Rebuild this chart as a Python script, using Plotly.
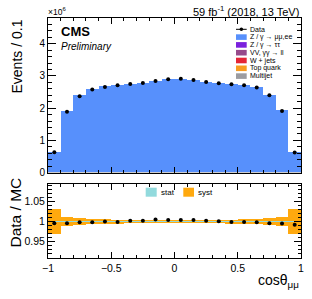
import plotly.graph_objects as go
import numpy as np

# ---------------- data (events in units of 1e6) ----------------
bin_centers = [-0.95, -0.85, -0.75, -0.65, -0.55, -0.45, -0.35, -0.25, -0.15, -0.05,
               0.05, 0.15, 0.25, 0.35, 0.45, 0.55, 0.65, 0.75, 0.85, 0.95]
bin_width = 0.1

mc_zll = [0.63, 1.90, 2.38, 2.58, 2.66, 2.71, 2.74, 2.77, 2.83, 2.89,
          2.90, 2.86, 2.80, 2.77, 2.74, 2.71, 2.64, 2.40, 1.92, 0.63]
mc_ztt = [0.004, 0.008, 0.009, 0.009, 0.009, 0.009, 0.009, 0.009, 0.009, 0.009,
          0.009, 0.009, 0.009, 0.009, 0.009, 0.009, 0.009, 0.009, 0.008, 0.004]
mc_vv = [0.001, 0.002, 0.002, 0.002, 0.002, 0.002, 0.002, 0.002, 0.002, 0.002,
         0.002, 0.002, 0.002, 0.002, 0.002, 0.002, 0.002, 0.002, 0.002, 0.001]
mc_wjets = [0.001, 0.001, 0.001, 0.001, 0.001, 0.001, 0.001, 0.001, 0.001, 0.001,
            0.001, 0.001, 0.001, 0.001, 0.001, 0.001, 0.001, 0.001, 0.001, 0.001]
mc_top = [0.002, 0.003, 0.003, 0.003, 0.003, 0.003, 0.003, 0.003, 0.003, 0.003,
          0.003, 0.003, 0.003, 0.003, 0.003, 0.003, 0.003, 0.003, 0.003, 0.002]
mc_multijet = [0.001, 0.001, 0.001, 0.001, 0.001, 0.001, 0.001, 0.001, 0.001, 0.001,
               0.001, 0.001, 0.001, 0.001, 0.001, 0.001, 0.001, 0.001, 0.001, 0.001]

data_events = [0.63, 1.89, 2.37, 2.58, 2.66, 2.71, 2.75, 2.78, 2.84, 2.90,
               2.91, 2.87, 2.81, 2.77, 2.74, 2.71, 2.64, 2.40, 1.91, 0.62]

ratio_data = [0.996, 0.996, 0.998, 0.998, 1.000, 0.999, 1.002, 1.002, 1.005, 1.004,
              1.004, 1.004, 1.002, 1.001, 0.999, 0.999, 0.998, 0.996, 0.995, 0.992]
ratio_syst = [0.032, 0.0105, 0.008, 0.007, 0.0055, 0.005, 0.0045, 0.004, 0.004, 0.004,
              0.004, 0.004, 0.004, 0.0045, 0.005, 0.0055, 0.007, 0.008, 0.0105, 0.032]
ratio_stat = [0.0015, 0.0012, 0.0012, 0.0012, 0.0012, 0.0012, 0.0012, 0.0012, 0.0012, 0.0012,
              0.0012, 0.0012, 0.0012, 0.0012, 0.0012, 0.0012, 0.0012, 0.0012, 0.0012, 0.0015]

x_ticks = [-1, -0.5, 0, 0.5, 1]
x_ticktext = ["\u22121", "\u22120.5", "0", "0.5", "1"]
y_ticks = [0, 1, 2, 3, 4]
r_ticks = [0.95, 1.0, 1.05]
r_ticktext = ["0.95", "1", "1.05"]

stack = [  # bottom -> top
    ("Multijet", mc_multijet, "#9c9ca1"),
    ("Top quark", mc_top, "#f89c20"),
    ("W + jets", mc_wjets, "#e42536"),
    ("VV, \u03b3\u03b3 \u2192 ll", mc_vv, "#964a8b"),
    ("Z / \u03b3 \u2192 \u03c4\u03c4", mc_ztt, "#7a21dd"),
    ("Z / \u03b3 \u2192 \u03bc\u03bc,ee", mc_zll, "#5790fc"),
]

FONT = "Liberation Sans, Arial, Helvetica, sans-serif"
W, H = 312, 299
L, R, T, B = 48, 301, 18, 258


def px_x(p):
    return (p - L) / (R - L)


def px_y(p):
    return (B - p) / (B - T)


fig = go.Figure()

base = np.zeros(len(bin_centers))
for name, vals, col in stack:
    v = np.array(vals)
    fig.add_trace(go.Bar(x=bin_centers, y=v, base=base.copy(), width=bin_width,
                         marker=dict(color=col, line=dict(width=0)), name=name,
                         xaxis="x", yaxis="y", showlegend=False))
    base = base + v

fig.add_trace(go.Scatter(x=bin_centers, y=data_events, mode="markers",
                         marker=dict(color="black", size=4), xaxis="x", yaxis="y",
                         showlegend=False, name="Data"))

# ratio panel
syst = np.array(ratio_syst)
stat = np.array(ratio_stat)
fig.add_trace(go.Bar(x=bin_centers, y=2 * syst, base=1 - syst, width=bin_width,
                     marker=dict(color="#ffa90e", line=dict(width=0)),
                     xaxis="x2", yaxis="y2", showlegend=False, name="syst"))
fig.add_trace(go.Bar(x=bin_centers, y=2 * stat, base=1 - stat, width=bin_width,
                     marker=dict(color="#92dadd", line=dict(width=0)),
                     xaxis="x2", yaxis="y2", showlegend=False, name="stat"))
fig.add_trace(go.Scatter(x=bin_centers, y=ratio_data, mode="markers",
                         marker=dict(color="black", size=4), xaxis="x2", yaxis="y2",
                         showlegend=False, name="Data/MC"))

axis_common = dict(showline=True, linecolor="black", linewidth=1, mirror="ticks",
                   ticks="inside", tickcolor="black", tickwidth=1, showgrid=False,
                   zeroline=False, automargin=False)

top_dom = [px_y(172.5), 1.0]
bot_dom = [0.0, px_y(184.3)]

fig.update_layout(
    width=W, height=H,
    margin=dict(l=L, r=W - R, t=T, b=H - B, pad=0, autoexpand=False),
    paper_bgcolor="white", plot_bgcolor="white",
    barmode="overlay", bargap=0,
    font=dict(family=FONT, color="black"),
    xaxis=dict(domain=[0, 1], anchor="y", range=[-1, 1], tickvals=x_ticks,
               showticklabels=False, ticklen=6,
               minor=dict(ticks="inside", dtick=0.1, tick0=-1, ticklen=3, tickcolor="black"),
               **axis_common),
    yaxis=dict(domain=top_dom, anchor="x", range=[0, 4.8], tickvals=y_ticks,
               ticklen=8, tickfont=dict(size=10, family=FONT),
               minor=dict(ticks="inside", dtick=0.2, tick0=0, ticklen=4, tickcolor="black"),
               **axis_common),
    xaxis2=dict(domain=[0, 1], anchor="y2", range=[-1, 1], tickvals=x_ticks,
                ticktext=x_ticktext, ticklen=6, tickfont=dict(size=10.5, family=FONT),
                minor=dict(ticks="inside", dtick=0.1, tick0=-1, ticklen=3, tickcolor="black"),
                **axis_common),
    yaxis2=dict(domain=bot_dom, anchor="x2", range=[0.9085, 1.0935], tickvals=r_ticks,
                ticktext=r_ticktext, ticklen=7, tickfont=dict(size=10.5, family=FONT),
                minor=dict(ticks="inside", dtick=0.01, tick0=0.9, ticklen=3.5, tickcolor="black"),
                **axis_common),
)

ann = []
# axis titles
ann.append(dict(text="Events / 0.1", x=px_x(16.5), y=1.0, xref="paper", yref="paper",
                xanchor="center", yanchor="top", textangle=-90, showarrow=False,
                font=dict(size=14, family=FONT)))
ann.append(dict(text="Data / MC", x=px_x(15), y=px_y(212.5), xref="paper", yref="paper",
                xanchor="center", yanchor="middle", textangle=-90, showarrow=False,
                font=dict(size=15.5, family=FONT)))
ann.append(dict(text="cos\u03b8<sub>\u03bc\u03bc</sub>", x=px_x(300.5), y=px_y(281),
                xref="paper", yref="paper", xanchor="right", yanchor="middle",
                showarrow=False, font=dict(size=14, family=FONT)))
# header texts
ann.append(dict(text="59 fb<sup>-1</sup> (2018, 13 TeV)", x=px_x(300.5), y=px_y(10.5),
                xref="paper", yref="paper", xanchor="right", yanchor="middle",
                showarrow=False, font=dict(size=11, family=FONT)))
ann.append(dict(text="\u00d710<sup>6</sup>", x=px_x(46), y=px_y(11.5), xref="paper",
                yref="paper", xanchor="left", yanchor="middle", showarrow=False,
                font=dict(size=8.5, family=FONT)))
ann.append(dict(text="<b>CMS</b>", x=px_x(59), y=px_y(31.5), xref="paper", yref="paper",
                xanchor="left", yanchor="middle", showarrow=False,
                font=dict(size=13, family=FONT)))
ann.append(dict(text="<i>Preliminary</i>", x=px_x(59), y=px_y(46), xref="paper",
                yref="paper", xanchor="left", yanchor="middle", showarrow=False,
                font=dict(size=10, family=FONT)))

shapes = []
# main legend (drawn manually for ROOT-like compact spacing)
leg_rows = [29.3, 37.1, 44.9, 52.7, 60.5, 68.3, 76.1]
leg_items = [("Data", None)] + [(n, c) for n, _, c in reversed(stack)]
for (name, col), yc in zip(leg_items, leg_rows):
    if col is None:
        shapes.append(dict(type="line", xref="paper", yref="paper",
                           x0=px_x(236), x1=px_x(246.7), y0=px_y(yc), y1=px_y(yc),
                           line=dict(color="black", width=1)))
        shapes.append(dict(type="circle", xref="paper", yref="paper",
                           x0=px_x(239.6), x1=px_x(243.1), y0=px_y(yc + 1.75),
                           y1=px_y(yc - 1.75), fillcolor="black", line=dict(width=0)))
    else:
        shapes.append(dict(type="rect", xref="paper", yref="paper",
                           x0=px_x(236), x1=px_x(246.7), y0=px_y(yc + 2.8),
                           y1=px_y(yc - 2.8), fillcolor=col, line=dict(width=0)))
    ann.append(dict(text=name, x=px_x(248.3), y=px_y(yc), xref="paper", yref="paper",
                    xanchor="left", yanchor="middle", showarrow=False,
                    font=dict(size=7, family=FONT)))

# ratio legend
for name, col, x0, x1, tx in [("stat", "#92dadd", 145.7, 156.7, 158.5),
                               ("syst", "#ffa90e", 183.3, 194.0, 196.0)]:
    shapes.append(dict(type="rect", xref="paper", yref="paper", x0=px_x(x0), x1=px_x(x1),
                       y0=px_y(196.7), y1=px_y(187.7), fillcolor=col, line=dict(width=0)))
    ann.append(dict(text=name, x=px_x(tx), y=px_y(192.2), xref="paper", yref="paper",
                    xanchor="left", yanchor="middle", showarrow=False,
                    font=dict(size=8, family=FONT)))

fig.update_layout(annotations=ann, shapes=shapes)
fig.write_html("out.html", config={"displayModeBar": False, "staticPlot": True},
               post_script="document.body.style.margin='0px';")
